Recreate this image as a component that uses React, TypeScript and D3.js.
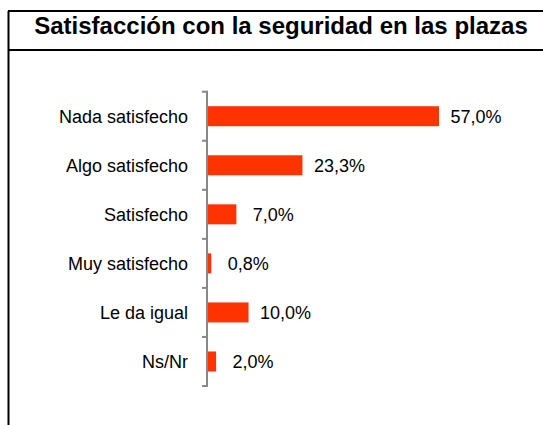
import React from "react";
import * as d3 from "d3";

const categories = ["Nada satisfecho", "Algo satisfecho", "Satisfecho", "Muy satisfecho", "Le da igual", "Ns/Nr"];
const values = [57.0, 23.3, 7.0, 0.8, 10.0, 2.0];
const valueLabels = ["57,0%", "23,3%", "7,0%", "0,8%", "10,0%", "2,0%"];
const title = "Satisfacción con la seguridad en las plazas";

const W = 543;
const H = 425;
const FONT = "'Liberation Sans', Arial, sans-serif";

export default function App() {
  const x = d3.scaleLinear().domain([0, 57]).range([208, 439]);
  const y = d3.scaleBand<string>().domain(categories).range([91.7, 386]).padding(0);
  const barH = 20;
  const step = y.step();

  return (
    <svg width={W} height={H} style={{ position: "absolute", left: 0, top: 0 }} xmlns="http://www.w3.org/2000/svg">
      <rect x={0} y={0} width={W} height={H} fill="#fff" />
      {/* frame */}
      <line x1={8.5} y1={11} x2={8.5} y2={H} stroke="#000" strokeWidth={2} />
      <line x1={8} y1={11} x2={W} y2={11} stroke="#000" strokeWidth={2} />
      <line x1={8} y1={50} x2={W} y2={50} stroke="#000" strokeWidth={2} />
      <text x={281} y={34} textAnchor="middle" fontFamily={FONT} fontWeight="bold" fontSize={24} fill="#000">
        {title}
      </text>
      {/* bars */}
      {categories.map((c, i) => {
        const cy = (y(c) as number) + step / 2;
        const x1 = x(values[i]);
        return (
          <g key={c}>
            <rect x={x(0)} y={cy - barH / 2} width={x1 - x(0)} height={barH} fill="#ff3300" />
            <text x={188} y={cy + 6.5} textAnchor="end" fontFamily={FONT} fontSize={18} fill="#000">
              {c}
            </text>
            <text x={x1 + 37} y={cy + 6.5} textAnchor="middle" fontFamily={FONT} fontSize={18} fill="#000">
              {valueLabels[i]}
            </text>
          </g>
        );
      })}
      {/* axis */}
      <line x1={207} y1={91.7} x2={207} y2={386} stroke="#888" strokeWidth={2} />
      {d3.range(categories.length + 1).map((k) => {
        const ty = 91.7 + k * step;
        return <line key={k} x1={202} y1={ty} x2={208} y2={ty} stroke="#888" strokeWidth={2} />;
      })}
    </svg>
  );
}
